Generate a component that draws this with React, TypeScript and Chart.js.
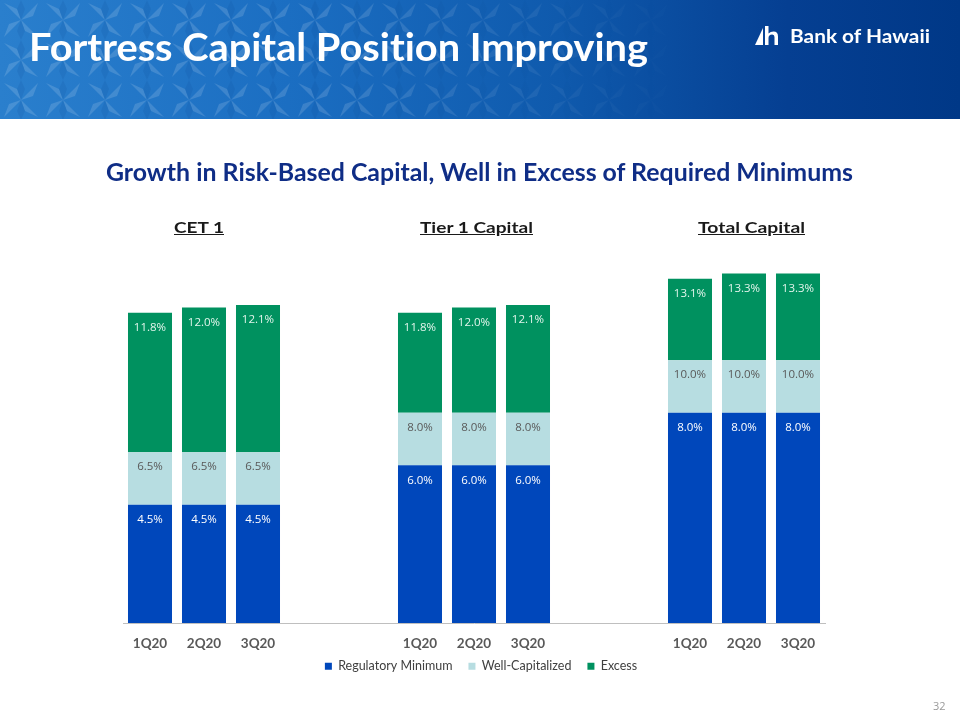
import React, { useEffect, useLayoutEffect, useRef } from "react";
import { Chart, registerables } from "chart.js";

Chart.register(...registerables);

// ---------- data ----------
const categories = ["1Q20", "2Q20", "3Q20", "", "", "1Q20", "2Q20", "3Q20", "", "", "1Q20", "2Q20", "3Q20"];
const groupTitles = ["CET 1", "Tier 1 Capital", "Total Capital"];
const seriesNames = ["Regulatory Minimum", "Well-Capitalized", "Excess"];
// levels as printed on the bars (cumulative %)
const regulatoryMinimum = [4.5, 4.5, 4.5, null, null, 6.0, 6.0, 6.0, null, null, 8.0, 8.0, 8.0];
const wellCapitalizedLevel = [6.5, 6.5, 6.5, null, null, 8.0, 8.0, 8.0, null, null, 10.0, 10.0, 10.0];
const actualRatio = [11.8, 12.0, 12.1, null, null, 11.8, 12.0, 12.1, null, null, 13.1, 13.3, 13.3];

const seriesColors = ["#0047BB", "#B7DDE1", "#00915F"];
const labelColors = ["#FFFFFF", "#595959", "#E2F5EC"];

const diff = (a: (number | null)[], b: (number | null)[]) =>
  a.map((v, i) => (v == null || b[i] == null ? null : Math.round((v - (b[i] as number)) * 10) / 10));

const segRegulatory = regulatoryMinimum;
const segWellCap = diff(wellCapitalizedLevel, regulatoryMinimum);
const segExcess = diff(actualRatio, wellCapitalizedLevel);
const printedLevels = [regulatoryMinimum, wellCapitalizedLevel, actualRatio];

// ---------- helpers ----------
function Fit(props: {
  text: string;
  x: number;
  y: number;
  width: number;
  style: React.CSSProperties;
}) {
  const ref = useRef<HTMLSpanElement>(null);
  useLayoutEffect(() => {
    const el = ref.current;
    if (!el) return;
    el.style.transform = "none";
    const w = el.getBoundingClientRect().width;
    if (w > 0) el.style.transform = `scaleX(${props.width / w})`;
  }, [props.text, props.width]);
  return (
    <span
      ref={ref}
      style={{
        position: "absolute",
        left: props.x,
        top: props.y,
        display: "inline-block",
        whiteSpace: "nowrap",
        lineHeight: 1,
        transformOrigin: "left center",
        fontVariantLigatures: "none",
        ...props.style,
      }}
    >
      {props.text}
    </span>
  );
}

const starTile =
  "data:image/svg+xml;utf8," +
  encodeURIComponent(
    `<svg xmlns='http://www.w3.org/2000/svg' width='42' height='40' viewBox='0 0 42 40'>` +
      `<g fill='white' fill-opacity='0.14'>` +
      `<path d='M21 20 L4 3 L17 9 Z'/><path d='M21 20 L38 3 L33 16 Z'/>` +
      `<path d='M21 20 L4 37 L9 24 Z'/><path d='M21 20 L38 37 L25 31 Z'/>` +
      `</g>` +
      `<g fill='#0a3f8f' fill-opacity='0.12'>` +
      `<path d='M21 20 L17 9 L21 0 L25 9 Z'/><path d='M21 20 L25 31 L21 40 L17 31 Z'/>` +
      `</g></svg>`
  );

const dataLabelPlugin = {
  id: "segmentLabels",
  afterLayout(chart: any) {
    // let the x tick labels extend below the (shortened) scale box
    if (chart.scales.x) chart.scales.x.bottom += 30;
    if (chart.legend) {
      chart.legend.left += 7;
      chart.legend.right += 7;
    }
  },
  afterDatasetsDraw(chart: any) {
    const ctx = chart.ctx;
    ctx.save();
    ctx.font = "11.5px 'Open Sans', 'DejaVu Sans', sans-serif";
    ctx.textAlign = "center";
    ctx.textBaseline = "middle";
    chart.data.datasets.forEach((_ds: any, di: number) => {
      const meta = chart.getDatasetMeta(di);
      meta.data.forEach((bar: any, i: number) => {
        const v = printedLevels[di][i];
        if (v == null) return;
        ctx.fillStyle = labelColors[di];
        ctx.fillText(v.toFixed(1) + "%", bar.x, bar.y + 15);
      });
    });
    ctx.restore();
  },
};

function CapitalChart() {
  const canvasRef = useRef<HTMLCanvasElement>(null);
  useEffect(() => {
    const canvas = canvasRef.current;
    if (!canvas) return;
    const chart = new Chart(canvas, {
      type: "bar",
      data: {
        labels: categories,
        datasets: [
          { label: seriesNames[0], data: segRegulatory, backgroundColor: seriesColors[0], borderWidth: 0 },
          { label: seriesNames[1], data: segWellCap, backgroundColor: seriesColors[1], borderWidth: 0 },
          { label: seriesNames[2], data: segExcess, backgroundColor: seriesColors[2], borderWidth: 0 },
        ],
      },
      options: {
        responsive: false,
        animation: false,
        devicePixelRatio: 1,
        layout: { padding: { left: 123, right: 135, top: 255, bottom: 37.5 } },
        datasets: { bar: { categoryPercentage: 0.815, barPercentage: 1 } },
        scales: {
          x: {
            stacked: true,
            grid: { display: false, drawTicks: false },
            border: { display: true, color: "#BFBFBF", width: 1 },
            ticks: {
              padding: 13,
              color: "#595959",
              font: { family: "Lato, 'Open Sans', sans-serif", size: 13.5, weight: "bold" },
              autoSkip: false,
              maxRotation: 0,
            },
            afterFit: (scale: any) => {
              scale.height = 21;
            },
          },
          y: { stacked: true, display: false, min: 0, max: 14 },
        },
        plugins: {
          legend: {
            position: "bottom",
            labels: {
              boxWidth: 7,
              boxHeight: 7,
              padding: 16,
              color: "#404040",
              font: { family: "Lato, 'Open Sans', sans-serif", size: 12.5 },
            },
          },
          tooltip: { enabled: false },
          title: { display: false },
        },
      } as any,
      plugins: [dataLabelPlugin],
    });
    return () => chart.destroy();
  }, []);
  return (
    <canvas
      ref={canvasRef}
      width={960}
      height={720}
      style={{ position: "absolute", left: 0, top: 0, width: 960, height: 720 }}
    />
  );
}

export default function App() {
  const groupCenters = [199, 476.5, 751.5];
  const groupWidths = [50, 113, 107];
  return (
    <div
      style={{
        position: "fixed",
        left: 0,
        top: 0,
        width: 960,
        height: 720,
        background: "#FFFFFF",
        overflow: "hidden",
        fontFamily: "Lato, 'Open Sans', sans-serif",
      }}
    >
      {/* header band */}
      <div
        style={{
          position: "absolute",
          left: 0,
          top: 0,
          width: 960,
          height: 119,
          background: "linear-gradient(90deg, #2a7fcd 0%, #1b6ec2 30%, #0f5aad 58%, #053f92 82%, #003887 100%)",
        }}
      />
      <div
        style={{
          position: "absolute",
          left: 0,
          top: 0,
          width: 960,
          height: 119,
          backgroundImage: `url("${starTile}")`,
          backgroundSize: "42px 40px",
          backgroundPosition: "0px 0px",
          WebkitMaskImage: "linear-gradient(90deg, #000 0%, #000 35%, transparent 72%)",
          maskImage: "linear-gradient(90deg, #000 0%, #000 35%, transparent 72%)",
        }}
      />
      <Fit
        text="Fortress Capital Position Improving"
        x={29}
        y={27}
        width={619}
        style={{ color: "#FFFFFF", fontSize: 39, fontWeight: 700 }}
      />
      {/* logo */}
      <svg style={{ position: "absolute", left: 755, top: 26 }} width="26" height="20" viewBox="0 0 26 20">
        <path d="M0 19 L8 2 L8 19 Z" fill="#FFFFFF" />
        <path
          d="M10 0 H13.5 V7.5 Q15.5 5.5 18.5 5.5 Q23 5.5 23 10.5 V19 H19.5 V11 Q19.5 8.5 17.2 8.5 Q13.5 8.5 13.5 12 V19 H10 Z"
          fill="#FFFFFF"
        />
      </svg>
      <Fit
        text="Bank of Hawaii"
        x={790}
        y={27}
        width={140}
        style={{ color: "#FFFFFF", fontSize: 18, fontWeight: 700 }}
      />

      {/* chart */}
      <CapitalChart />

      {/* subtitle */}
      <Fit
        text="Growth in Risk-Based Capital, Well in Excess of Required Minimums"
        x={106}
        y={160}
        width={747}
        style={{ color: "#0F2D86", fontSize: 24, fontWeight: 700 }}
      />
      {groupTitles.map((t, i) => (
        <Fit
          key={t}
          text={t}
          x={groupCenters[i] - groupWidths[i] / 2}
          y={219}
          width={groupWidths[i]}
          style={{ color: "#1A1A1A", fontSize: 16, fontWeight: 700, textDecoration: "underline" }}
        />
      ))}
      <span
        style={{
          position: "absolute",
          left: 933,
          top: 700,
          fontSize: 11,
          color: "#9A9A9A",
          lineHeight: 1,
          fontFamily: "'Open Sans', sans-serif",
        }}
      >
        32
      </span>
    </div>
  );
}
